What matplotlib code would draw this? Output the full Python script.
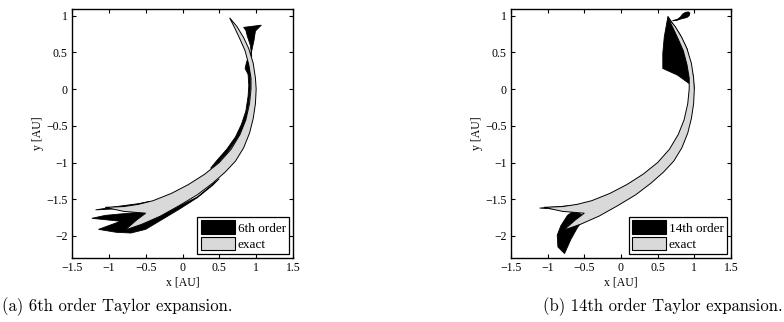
import matplotlib
matplotlib.use("Agg")
import matplotlib.pyplot as plt
from matplotlib.patches import Patch

# ---- data -------------------------------------------------------------
# exact reachable region: outer (right/lower) and inner (left/upper) boundary
exact_outer_x = [0.64, 0.74, 0.83, 0.90, 0.96, 0.99, 1.00, 0.99, 0.96, 0.91, 0.83,
                 0.72, 0.58, 0.41, 0.20, -0.05, -0.30, -0.55, -0.78]
exact_outer_y = [0.97, 0.85, 0.70, 0.55, 0.35, 0.15, 0.00, -0.20, -0.40, -0.60, -0.80,
                 -0.98, -1.13, -1.28, -1.44, -1.59, -1.73, -1.84, -1.92]
exact_inner_x = [0.64, 0.71, 0.78, 0.85, 0.90, 0.93, 0.93, 0.91, 0.86, 0.78, 0.66,
                 0.50, 0.30, 0.08, -0.15, -0.40, -0.60, -0.80, -1.05, -0.80, -0.50,
                 -0.62, -0.78]
exact_inner_y = [0.97, 0.83, 0.68, 0.52, 0.33, 0.15, 0.00, -0.20, -0.42, -0.62, -0.82,
                 -1.00, -1.16, -1.30, -1.42, -1.52, -1.57, -1.60, -1.61, -1.665, -1.69,
                 -1.78, -1.92]

# 6th order Taylor expansion: upper spike with inner strip, lower tail, thin prong
o6_top_x = [0.83, 1.07, 0.99, 0.97, 0.94, 0.90, 0.87, 0.85, 0.89, 0.90, 0.89, 0.86,
            0.80, 0.72, 0.60, 0.46, 0.38, 0.47, 0.62, 0.76, 0.85, 0.90, 0.92, 0.92,
            0.94, 0.92, 0.88, 0.86]
o6_top_y = [0.84, 0.87, 0.79, 0.66, 0.52, 0.44, 0.37, 0.28, 0.20, 0.05, -0.10, -0.30,
            -0.48, -0.65, -0.82, -0.98, -1.08, -1.02, -0.85, -0.65, -0.45, -0.20, 0.00,
            0.30, 0.45, 0.60, 0.72, 0.80]
o6_tail_x = [-1.23, -1.05, -0.84, -0.60, -0.45, -0.30, -0.10, 0.20, 0.50, 0.41, 0.20,
             -0.05, -0.30, -0.50, -0.70, -0.90, -1.14, -0.84]
o6_tail_y = [-1.76, -1.72, -1.70, -1.68, -1.66, -1.72, -1.62, -1.47, -1.22, -1.31, -1.48,
             -1.64, -1.79, -1.91, -1.96, -1.95, -1.91, -1.80]
o6_prong_x = [-1.18, -0.90, -0.60, -0.45, -0.45, -0.80]
o6_prong_y = [-1.645, -1.60, -1.56, -1.53, -1.57, -1.625]

# 14th order Taylor expansion: upper lobe, small leaf, lower blob, thin prong
o14_top_x = [0.64, 0.59, 0.57, 0.57, 0.77, 0.95, 1.00, 0.98, 0.95, 0.90, 0.80, 0.70]
o14_top_y = [0.99, 0.71, 0.49, 0.28, 0.19, 0.06, 0.00, 0.20, 0.30, 0.55, 0.75, 0.90]
o14_leaf_x = [0.70, 0.77, 0.81, 0.84, 0.88, 0.92, 0.94, 0.93, 0.90, 0.86, 0.82, 0.76]
o14_leaf_y = [0.93, 0.95, 0.98, 1.02, 1.045, 1.05, 1.035, 1.00, 0.975, 0.965, 0.955, 0.935]
o14_blob_x = [-0.66, -0.55, -0.50, -0.59, -0.68, -0.77, -0.86, -0.87, -0.82, -0.73]
o14_blob_y = [-1.67, -1.70, -1.76, -1.88, -2.04, -2.24, -2.15, -1.99, -1.86, -1.72]
o14_prong_x = [-1.11, -0.90, -0.60, -0.45, -0.50, -0.80]
o14_prong_y = [-1.62, -1.605, -1.58, -1.56, -1.62, -1.64]

x_ticks = [-1.5, -1, -0.5, 0, 0.5, 1, 1.5]
x_tick_labels = ["\u22121.5", "\u22121", "\u22120.5", "0", "0.5", "1", "1.5"]
y_ticks = [-2, -1.5, -1, -0.5, 0, 0.5, 1]
y_tick_labels = ["\u22122", "\u22121.5", "\u22121", "\u22120.5", "0", "0.5", "1"]

panels = [
    {
        "label": "6th order",
        "caption": "(a) 6th order Taylor expansion.",
        "shapes": [(o6_top_x, o6_top_y), (o6_tail_x, o6_tail_y), (o6_prong_x, o6_prong_y)],
    },
    {
        "label": "14th order",
        "caption": "(b) 14th order Taylor expansion.",
        "shapes": [(o14_top_x, o14_top_y), (o14_leaf_x, o14_leaf_y),
                   (o14_blob_x, o14_blob_y), (o14_prong_x, o14_prong_y)],
    },
]

# ---- figure -----------------------------------------------------------
W, H = 784, 322
fig = plt.figure(figsize=(W / 100, H / 100), dpi=100)

serif = ["Liberation Serif", "DejaVu Serif"]
gray = "#d9d9d9"

# axes boxes in pixels: left, right, top, bottom
boxes = [(72, 293, 9, 258), (511, 731, 9, 258)]
caption_x = [117, 663]

exact_x = exact_outer_x + exact_inner_x[::-1][1:]
exact_y = exact_outer_y + exact_inner_y[::-1][1:]

for panel, (l, r, t, b), cx in zip(panels, boxes, caption_x):
    ax = fig.add_axes([l / W, 1 - b / H, (r - l) / W, (b - t) / H])
    for sx, sy in panel["shapes"]:
        ax.fill(sx, sy, facecolor="black", edgecolor="black", linewidth=0.6, zorder=2)
    ax.fill(exact_x, exact_y, facecolor=gray, edgecolor="black", linewidth=0.7, zorder=3)

    ax.set_xlim(-1.5, 1.5)
    ax.set_ylim(-2.3, 1.09)
    ax.set_xticks(x_ticks)
    ax.set_xticklabels(x_tick_labels)
    ax.set_yticks(y_ticks)
    ax.set_yticklabels(y_tick_labels)
    ax.tick_params(direction="in", length=3, width=0.8, top=True, right=True,
                   labelsize=8.5, pad=3)
    for lab in ax.get_xticklabels() + ax.get_yticklabels():
        lab.set_fontfamily(serif)
    for sp in ax.spines.values():
        sp.set_linewidth(1.0)

    ax.set_xlabel("x [AU]", fontsize=8.5, family=serif, labelpad=1.5)
    ax.set_ylabel("y [AU]", fontsize=8.5, family=serif, labelpad=2)

    handles = [Patch(facecolor="black", edgecolor="black", linewidth=0.8),
               Patch(facecolor=gray, edgecolor="black", linewidth=0.8)]
    leg = ax.legend(handles, [panel["label"], "exact"], loc="lower right",
                    prop={"family": serif, "size": 9.5}, frameon=True, fancybox=False,
                    framealpha=1, edgecolor="black", borderpad=0.25,
                    handlelength=2.6, handleheight=1.2, handletextpad=0.2,
                    labelspacing=0.15, borderaxespad=0.3)
    leg.get_frame().set_linewidth(0.9)

    fig.text(cx / W, 1 - 307 / H, panel["caption"], ha="center", va="center",
             fontsize=12, family="cmr10")

fig.savefig("out.png", dpi=100)
